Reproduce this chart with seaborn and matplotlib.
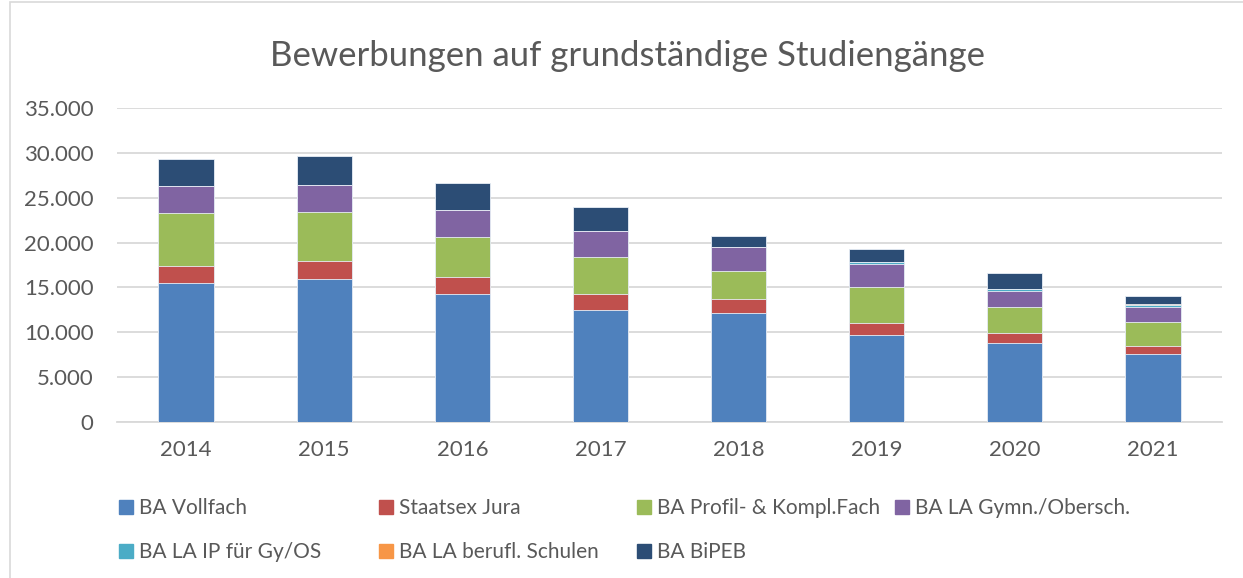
import matplotlib
matplotlib.use("Agg")
import matplotlib.pyplot as plt
import matplotlib.patches as mpatches
import matplotlib.ticker as mticker
import numpy as np
import pandas as pd
import seaborn as sns

years = ["2014", "2015", "2016", "2017", "2018", "2019", "2020", "2021"]
series_names = ["BA Vollfach", "Staatsex Jura", "BA Profil- & Kompl.Fach",
                "BA LA Gymn./Obersch.", "BA LA IP für Gy/OS",
                "BA LA berufl. Schulen", "BA BiPEB"]

vollfach = [15540, 15900, 14230, 12480, 12110, 9660, 8770, 7550]
jura = [1880, 2000, 1970, 1790, 1570, 1340, 1120, 950]
profil = [5910, 5500, 4460, 4120, 3150, 4080, 2890, 2650]
gymn = [2940, 3000, 2970, 2940, 2710, 2530, 1860, 1700]
ip = [0, 0, 0, 0, 0, 260, 220, 190]
berufl = [0, 0, 0, 0, 0, 0, 0, 60]
bipeb = [3050, 3200, 2970, 2640, 1190, 1410, 1710, 910]

colors = ["#4F81BD", "#C0504D", "#9BBB59", "#8064A2", "#4BACC6", "#F79646", "#2C4D75"]
text_col = "#595959"

sns.set_theme(style="white")
plt.rcParams["font.family"] = ["Lato", "DejaVu Sans"]

df = pd.DataFrame({"Jahr": years})
layers = [vollfach, jura, profil, gymn, ip, berufl, bipeb]
cum = np.cumsum(np.array(layers), axis=0)

fig = plt.figure(figsize=(12.43, 5.78), dpi=100)
ax = fig.add_axes([117 / 1243, 1 - 422 / 578, (1222 - 117) / 1243, (422 - 108) / 578])

# stacked: draw totals first, smaller cumulative sums on top
for i in range(len(layers) - 1, -1, -1):
    df["wert"] = cum[i]
    sns.barplot(data=df, x="Jahr", y="wert", color=colors[i], width=0.4,
                saturation=1, edgecolor="#E8EEF6", linewidth=0.6, ax=ax, zorder=3)

ax.set_ylim(0, 35000)
ax.set_xlim(-0.5, 7.5)
ax.yaxis.set_major_locator(mticker.MultipleLocator(5000))
ax.yaxis.set_major_formatter(mticker.FuncFormatter(lambda v, p: f"{int(v):,}".replace(",", ".")))
ax.grid(axis="y", color="#D9D9D9", linewidth=1.3, zorder=0)
ax.set_axisbelow(True)
for s in ["top", "right", "left"]:
    ax.spines[s].set_visible(False)
ax.spines["bottom"].set_color("#D9D9D9")
ax.spines["bottom"].set_linewidth(1.3)
ax.tick_params(axis="both", length=0, labelsize=16, colors=text_col)
ax.tick_params(axis="x", pad=13)
ax.tick_params(axis="y", pad=17)
ax.set_xlabel("")
ax.set_ylabel("")

fig.text(0.505, 1 - 56 / 578, "Bewerbungen auf grundständige Studiengänge",
         ha="center", va="center", fontsize=25, color=text_col)

# legend in four equal-width columns like the original
handles = [mpatches.Patch(color=c) for c in colors]
cols = [[0, 4], [1, 5], [2, 6], [3]]
col_x = [119, 379, 637, 895]
for xs, idx in zip(col_x, cols):
    fig.legend([handles[k] for k in idx], [series_names[k] for k in idx],
               loc="upper left", bbox_to_anchor=(xs / 1243, 1 - 498 / 578),
               frameon=False, fontsize=15, labelcolor=text_col,
               handlelength=0.67, handleheight=0.67, handletextpad=0.3,
               labelspacing=1.15, borderaxespad=0, borderpad=0)

fig.patches.append(mpatches.Rectangle((10 / 1243, -0.01), 1.2, 1 - 2 / 578 + 0.01,
                                      transform=fig.transFigure, fill=False,
                                      edgecolor="#D9D9D9", linewidth=1.2))

fig.savefig("out.png", dpi=100)
